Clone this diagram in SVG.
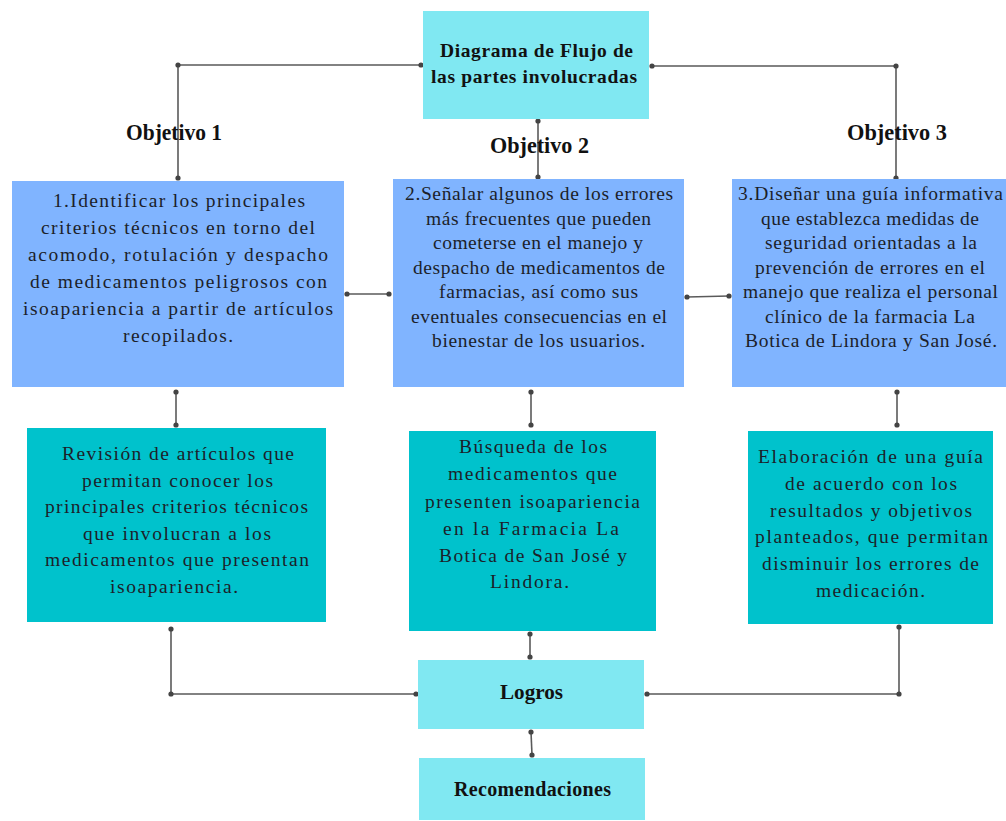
<svg xmlns="http://www.w3.org/2000/svg" width="1006" height="821" viewBox="0 0 1006 821">
<style>
.bg{fill:#ffffff}
.top{fill:#80E8F2}
.obj{fill:#80B4FF}
.res{fill:#00C2CC}
.t{font-family:"Liberation Serif","Times New Roman",serif;font-size:19.5px;fill:#1c1f2a}
.b{font-family:"Liberation Serif","Times New Roman",serif;font-size:19.5px;font-weight:bold;fill:#111}
.h{font-family:"Liberation Serif","Times New Roman",serif;font-size:23px;font-weight:bold;fill:#111}
.c{fill:none;stroke:#5a5a5a;stroke-width:1.6}
</style>
<defs>
<marker id="dot" markerUnits="userSpaceOnUse" markerWidth="8" markerHeight="8" refX="4" refY="4">
<circle cx="4" cy="4" r="2.6" fill="#444"/>
</marker>
</defs>
<rect class="bg" x="0" y="0" width="1006" height="821"/>

<g id="connectors">
<polyline class="c" points="421,65 178,65 178,178" marker-start="url(#dot)" marker-mid="url(#dot)" marker-end="url(#dot)"/>
<line class="c" x1="538" y1="121" x2="538" y2="177" marker-start="url(#dot)" marker-end="url(#dot)"/>
<polyline class="c" points="652,66 896,66 896,178" marker-start="url(#dot)" marker-mid="url(#dot)" marker-end="url(#dot)"/>
<line class="c" x1="347" y1="294" x2="389" y2="294" marker-start="url(#dot)" marker-end="url(#dot)"/>
<line class="c" x1="687" y1="297" x2="729" y2="296" marker-start="url(#dot)" marker-end="url(#dot)"/>
<line class="c" x1="176" y1="392" x2="176" y2="425" marker-start="url(#dot)" marker-end="url(#dot)"/>
<line class="c" x1="531" y1="392" x2="531" y2="425" marker-start="url(#dot)" marker-end="url(#dot)"/>
<line class="c" x1="897" y1="392" x2="897" y2="425" marker-start="url(#dot)" marker-end="url(#dot)"/>
<polyline class="c" points="171,629 171,694 416,694" marker-start="url(#dot)" marker-mid="url(#dot)" marker-end="url(#dot)"/>
<line class="c" x1="530" y1="634" x2="530" y2="657" marker-start="url(#dot)" marker-end="url(#dot)"/>
<polyline class="c" points="647,694 899,694 899,627" marker-start="url(#dot)" marker-mid="url(#dot)" marker-end="url(#dot)"/>
<line class="c" x1="531" y1="732" x2="532" y2="755" marker-start="url(#dot)" marker-end="url(#dot)"/>
</g>

<g id="labels">
<text class="h" x="126" y="140" textLength="96" lengthAdjust="spacingAndGlyphs">Objetivo 1</text>
<text class="h" x="490" y="153" textLength="99" lengthAdjust="spacingAndGlyphs">Objetivo 2</text>
<text class="h" x="847" y="140" textLength="100" lengthAdjust="spacingAndGlyphs">Objetivo 3</text>
</g>

<g id="node-titulo">
<rect class="top" x="423" y="11" width="226" height="108"/>
<text class="b" x="440" y="57" textLength="193" lengthAdjust="spacing">Diagrama de Flujo de</text>
<text class="b" x="431" y="83" textLength="206" lengthAdjust="spacing">las partes involucradas</text>
</g>

<g id="node-objetivo1">
<rect class="obj" x="12" y="181" width="332" height="206"/>
<text class="t" x="53" y="207" textLength="252" lengthAdjust="spacing">1.Identificar los principales</text>
<text class="t" x="41" y="234" textLength="274" lengthAdjust="spacing">criterios técnicos en torno del</text>
<text class="t" x="28" y="261" textLength="300" lengthAdjust="spacing">acomodo, rotulación y despacho</text>
<text class="t" x="30" y="288" textLength="297" lengthAdjust="spacing">de medicamentos peligrosos con</text>
<text class="t" x="23" y="315" textLength="310" lengthAdjust="spacing">isoapariencia a partir de artículos</text>
<text class="t" x="123" y="342" textLength="110" lengthAdjust="spacing">recopilados.</text>
</g>

<g id="node-objetivo2">
<rect class="obj" x="393" y="179" width="291" height="208"/>
<text class="t" x="405" y="200" textLength="268" lengthAdjust="spacing">2.Señalar algunos de los errores</text>
<text class="t" x="426" y="224.5" textLength="225" lengthAdjust="spacing">más frecuentes que pueden</text>
<text class="t" x="433" y="249" textLength="210" lengthAdjust="spacing">cometerse en el manejo y</text>
<text class="t" x="413" y="273.5" textLength="252" lengthAdjust="spacing">despacho de medicamentos de</text>
<text class="t" x="439" y="298" textLength="199" lengthAdjust="spacing">farmacias, así como sus</text>
<text class="t" x="411" y="322.5" textLength="256" lengthAdjust="spacing">eventuales consecuencias en el</text>
<text class="t" x="432" y="347" textLength="213" lengthAdjust="spacing">bienestar de los usuarios.</text>
</g>

<g id="node-objetivo3">
<rect class="obj" x="732" y="179" width="274" height="208"/>
<text class="t" x="738" y="200" textLength="265" lengthAdjust="spacing">3.Diseñar una guía informativa</text>
<text class="t" x="761" y="224.5" textLength="218" lengthAdjust="spacing">que establezca medidas de</text>
<text class="t" x="765" y="249" textLength="212" lengthAdjust="spacing">seguridad orientadas a la</text>
<text class="t" x="755" y="273.5" textLength="230" lengthAdjust="spacing">prevención de errores en el</text>
<text class="t" x="743" y="298" textLength="255" lengthAdjust="spacing">manejo que realiza el personal</text>
<text class="t" x="765" y="322.5" textLength="210" lengthAdjust="spacing">clínico de la farmacia La</text>
<text class="t" x="745" y="347" textLength="252" lengthAdjust="spacing">Botica de Lindora y San José.</text>
</g>

<g id="node-revision">
<rect class="res" x="27" y="428" width="299" height="194"/>
<text class="t" x="62" y="460" textLength="232" lengthAdjust="spacing">Revisión de artículos que</text>
<text class="t" x="82" y="487" textLength="191" lengthAdjust="spacing">permitan conocer los</text>
<text class="t" x="45" y="513" textLength="263" lengthAdjust="spacing">principales criterios técnicos</text>
<text class="t" x="83" y="540" textLength="188" lengthAdjust="spacing">que involucran a los</text>
<text class="t" x="45" y="566" textLength="264" lengthAdjust="spacing">medicamentos que presentan</text>
<text class="t" x="110" y="593" textLength="128" lengthAdjust="spacing">isoapariencia.</text>
</g>

<g id="node-busqueda">
<rect class="res" x="409" y="431" width="247" height="200"/>
<text class="t" x="459" y="453" textLength="148" lengthAdjust="spacing">Búsqueda de los</text>
<text class="t" x="448" y="480" textLength="169" lengthAdjust="spacing">medicamentos que</text>
<text class="t" x="425" y="508" textLength="215" lengthAdjust="spacing">presenten isoapariencia</text>
<text class="t" x="443" y="535" textLength="176" lengthAdjust="spacing">en la Farmacia La</text>
<text class="t" x="439" y="562" textLength="188" lengthAdjust="spacing">Botica de San José y</text>
<text class="t" x="490" y="588" textLength="79" lengthAdjust="spacing">Lindora.</text>
</g>

<g id="node-elaboracion">
<rect class="res" x="748" y="431" width="245" height="193"/>
<text class="t" x="758" y="463" textLength="225" lengthAdjust="spacing">Elaboración de una guía</text>
<text class="t" x="785" y="490" textLength="172" lengthAdjust="spacing">de acuerdo con los</text>
<text class="t" x="770" y="517" textLength="202" lengthAdjust="spacing">resultados y objetivos</text>
<text class="t" x="755" y="543" textLength="233" lengthAdjust="spacing">planteados, que permitan</text>
<text class="t" x="762" y="570" textLength="217" lengthAdjust="spacing">disminuir los errores de</text>
<text class="t" x="816" y="597" textLength="109" lengthAdjust="spacing">medicación.</text>
</g>

<g id="node-logros">
<rect class="top" x="418" y="660" width="226" height="69"/>
<text class="b" style="font-size:21px" x="500" y="699" textLength="63" lengthAdjust="spacingAndGlyphs">Logros</text>
</g>

<g id="node-recomendaciones">
<rect class="top" x="419" y="758" width="226" height="62"/>
<text class="b" style="font-size:20px" x="454" y="796" textLength="157" lengthAdjust="spacing">Recomendaciones</text>
</g>
</svg>
